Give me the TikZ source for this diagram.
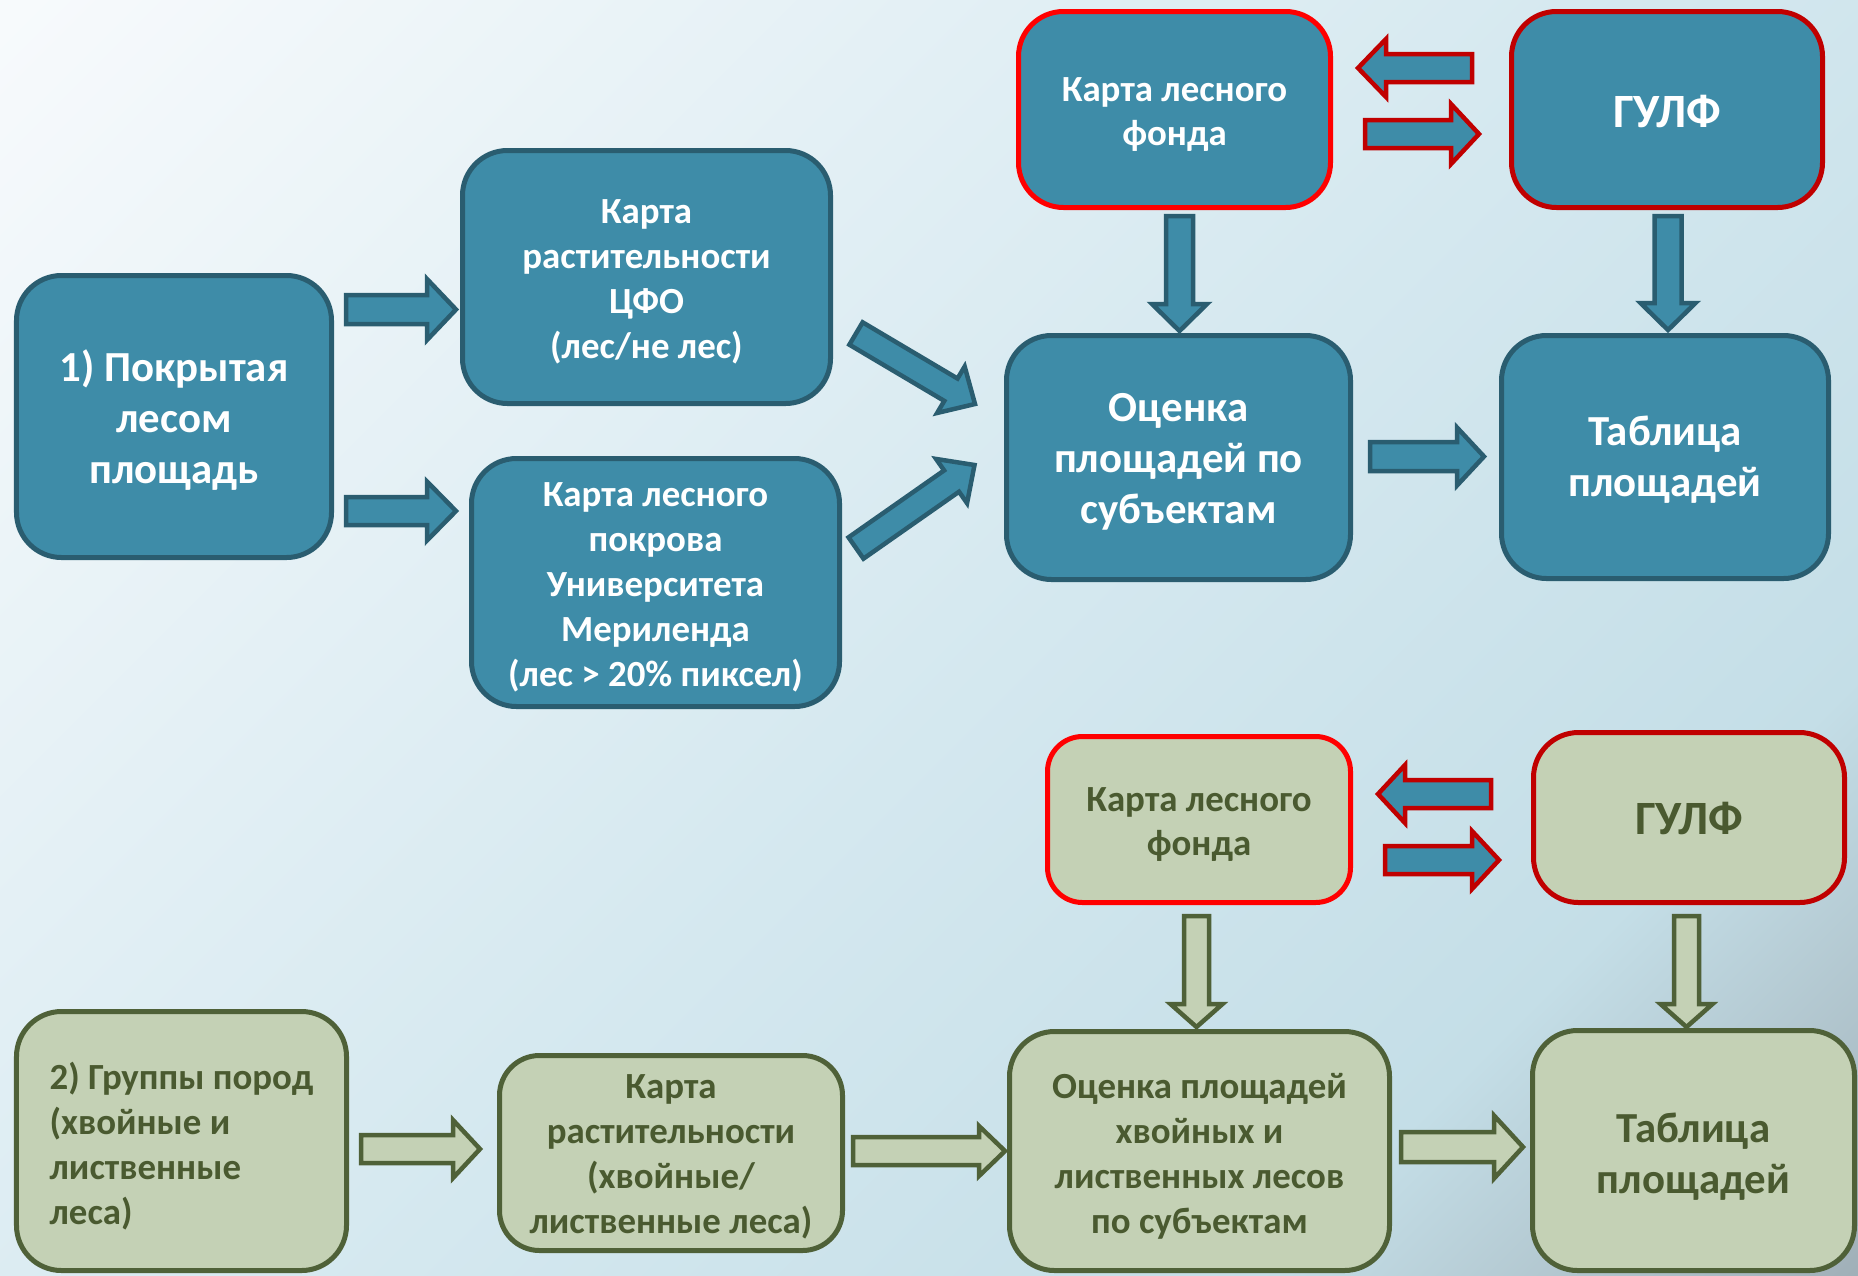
\documentclass[tikz,border=0pt]{standalone}
\usepackage{fontspec}
\setmainfont{Carlito}
\usetikzlibrary{calc}
\definecolor{tealfill}{HTML}{3E8CA8}
\definecolor{tealdark}{HTML}{2A5D70}
\definecolor{grfill}{HTML}{C4D1B5}
\definecolor{grdark}{HTML}{4F6138}
\definecolor{grtext}{HTML}{4A5A30}
\definecolor{redb}{HTML}{FF0000}
\definecolor{redd}{HTML}{C00000}
\definecolor{bgA}{HTML}{F7FAFC}
\definecolor{bgB}{HTML}{D6E9F0}
\definecolor{bgC}{HTML}{C4DEE7}
\definecolor{bgD}{HTML}{9FAEB6}
\pgfdeclarehorizontalshading{bgshade}{100bp}{color(0bp)=(bgA); color(15bp)=(bgA); color(50bp)=(bgB); color(72bp)=(bgC); color(86bp)=(bgD); color(100bp)=(bgD)}
\newcommand\blockarrow[6]{%
  \path #2 coordinate (bas) #3 coordinate (bae);
  \pgfpointdiff{\pgfpointanchor{bas}{center}}{\pgfpointanchor{bae}{center}}%
  \pgfgetlastxy\badx\bady
  \pgfmathsetmacro\baang{atan2(\bady,\badx)}%
  \pgfmathsetmacro\balen{veclen(\badx,\bady)}%
  \draw[#1, shift={(bas)}, rotate=\baang]
    (0pt,#4bp) -- ({\balen pt-#6bp},#4bp) -- ({\balen pt-#6bp},#5bp) -- (\balen pt,0pt)
    -- ({\balen pt-#6bp},-#5bp) -- ({\balen pt-#6bp},-#4bp) -- (0pt,-#4bp) -- cycle;
}
% text block lowered by #1 bp inside its node, keeping the node's size
\newcommand\tl[3][5]{\raisebox{-#1bp}[\height][\depth]{\begin{tabular}{@{}#2@{}}#3\end{tabular}}}
\tikzset{
  tbox/.style={draw=tealdark, fill=tealfill, line width=5bp, rounded corners=45bp,
    text=white, inner sep=0pt},
  gbox/.style={draw=grdark, fill=grfill, line width=5bp, rounded corners=45bp,
    text=grtext, inner sep=0pt},
  bigtxt/.style={font=\fontsize{43}{51}\selectfont\bfseries},
  smalltxt/.style={font=\fontsize{37}{45}\selectfont\bfseries},
  gulftxt/.style={font=\fontsize{48}{55}\selectfont\bfseries},
  tarrow/.style={fill=tealfill, draw=tealdark, line width=4.5bp, line join=miter},
  rarrow/.style={fill=tealfill, draw=redd, line width=4.5bp, line join=miter},
  garrow/.style={fill=grfill, draw=grdark, line width=4.5bp, line join=miter},
}
\begin{document}
\begin{tikzpicture}[x=1bp,y=-1bp]
\useasboundingbox (0,0) rectangle (1858,1275);
\shade[shading=bgshade, shading angle=-45] (0,0) rectangle (1858,1275);
% top row
\node[tbox, bigtxt, minimum width=315bp, minimum height=282bp] (A) at (174,416.5)
  {\tl[6]{c}{1) Покрытая\\лесом\\площадь}};
\node[tbox, smalltxt, minimum width=368bp, minimum height=253bp] (B) at (646.5,277)
  {\tl{c}{Карта\\растительности\\ЦФО\\(лес/не лес)}};
\node[tbox, smalltxt, minimum width=368bp, minimum height=248bp] (C) at (655.5,582.5)
  {\tl{c}{Карта лесного\\покрова\\Университета\\Мериленда\\(лес > 20\% пиксел)}};
\node[tbox, smalltxt, draw=redb, minimum width=312bp, minimum height=196bp] (D) at (1174.5,109.5)
  {\tl{c}{Карта лесного\\фонда}};
\node[tbox, gulftxt, draw=redd, minimum width=311bp, minimum height=196bp] (E) at (1667,109.5)
  {\tl[7]{c}{ГУЛФ}};
\node[tbox, bigtxt, minimum width=344bp, minimum height=244bp] (F) at (1178.5,457.5)
  {\tl{c}{Оценка\\площадей по\\субъектам}};
\node[tbox, bigtxt, minimum width=327bp, minimum height=243bp] (G) at (1665,457)
  {\tl[4]{c}{Таблица\\площадей}};
% bottom row
\node[gbox, smalltxt, draw=redb, rounded corners=35bp, minimum width=303bp, minimum height=166bp] (H) at (1199,819.5)
  {\tl{c}{Карта лесного\\фонда}};
\node[gbox, gulftxt, draw=redd, minimum width=311bp, minimum height=170bp] (I) at (1689,817.5)
  {\tl[6]{c}{ГУЛФ}};
\node[gbox, smalltxt, minimum width=330bp, minimum height=259bp] (J) at (181.5,1141)
  {\tl[7]{l}{2) Группы пород\\(хвойные и\\лиственные\\леса)}};
\node[gbox, smalltxt, rounded corners=40bp, minimum width=343bp, minimum height=195bp] (K) at (671,1153)
  {\tl[4]{c}{Карта\\растительности\\(хвойные/\\лиственные леса)}};
\node[gbox, smalltxt, minimum width=380bp, minimum height=239bp] (L) at (1199.5,1151)
  {\tl[6]{c}{Оценка площадей\\хвойных и\\лиственных лесов\\по субъектам}};
\node[gbox, bigtxt, minimum width=322bp, minimum height=240bp] (M) at (1693.5,1150.5)
  {\tl[7]{c}{Таблица\\площадей}};
% top arrows
\blockarrow{tarrow}{($(A.east |- 0,309.5)+(12,0)$)}{($(B.west |- 0,309.5)+(-4,0)$)}{14.5}{30.5}{29}
\blockarrow{tarrow}{($(A.east |- 0,511)+(12,0)$)}{($(C.west |- 0,511)+(-13,0)$)}{14}{29.5}{29}
\blockarrow{tarrow}{($(B.east)+(23,56.5)$)}{($(F.west)+(-29,-53.5)$)}{13}{27}{28}
\blockarrow{tarrow}{($(C.east)+(14,-34.5)$)}{($(F.west)+(-29.5,7.5)$)}{13}{27}{28}
\blockarrow{rarrow}{($(E.west |- 0,68)+(-37,0)$)}{($(D.east |- 0,68)+(25,0)$)}{14}{29}{28}
\blockarrow{rarrow}{($(D.east |- 0,134)+(32,0)$)}{($(E.west |- 0,134)+(-30,0)$)}{14}{30}{28}
\blockarrow{tarrow}{($(D.south)+(5,6)$)}{($(F.north)+(1,-2)$)}{13.5}{27.5}{27}
\blockarrow{tarrow}{($(E.south)+(1,6)$)}{($(G.north)+(3,-3)$)}{13.5}{27.5}{27}
\blockarrow{tarrow}{($(F.east |- 0,456.5)+(17,0)$)}{($(G.west |- 0,456.5)+(-15,0)$)}{14.5}{29}{27}
% bottom arrows
\blockarrow{rarrow}{($(I.west |- 0,794)+(-40,0)$)}{($(H.east |- 0,794)+(25,0)$)}{14}{29}{27}
\blockarrow{rarrow}{($(H.east |- 0,860)+(32,0)$)}{($(I.west |- 0,860)+(-32,0)$)}{14}{29}{27}
\blockarrow{garrow}{($(H.south)+(-2.5,11)$)}{($(L.north)+(-3,-2)$)}{12.5}{26}{23}
\blockarrow{garrow}{($(I.south)+(-2.5,11)$)}{($(M.north)+(-7,-1)$)}{12.5}{26}{23}
\blockarrow{garrow}{($(J.east |- 0,1149)+(12,0)$)}{($(K.west |- 0,1149)+(-17,0)$)}{14}{29}{27}
\blockarrow{garrow}{($(K.east |- 0,1151)+(8,0)$)}{($(L.west |- 0,1151)+(-2,0)$)}{14}{25}{26}
\blockarrow{garrow}{($(L.east |- 0,1147)+(9,0)$)}{($(M.west |- 0,1147)+(-7,0)$)}{15}{31.5}{29}
\end{tikzpicture}
\end{document}
